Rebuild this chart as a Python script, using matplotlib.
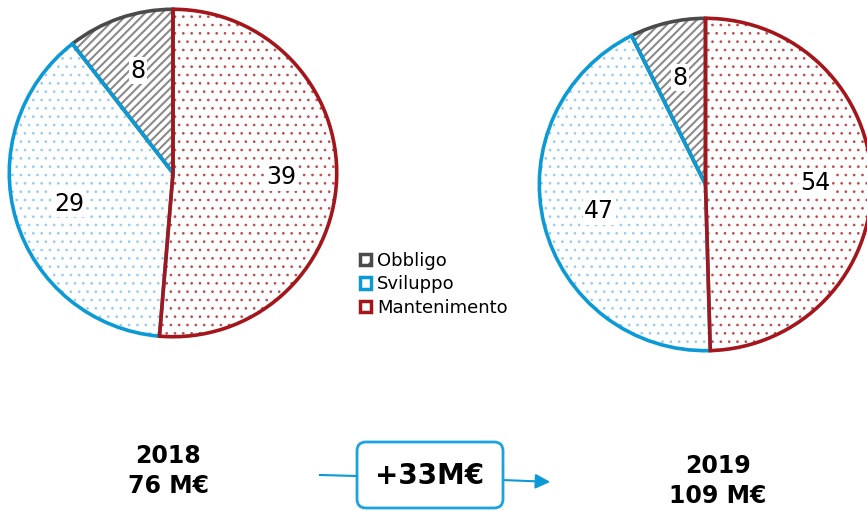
import matplotlib.pyplot as plt
import matplotlib as mpl
from matplotlib.patches import Wedge, Patch, FancyBboxPatch

mpl.rcParams['hatch.linewidth'] = 1.5

# dati
categorie = ['Mantenimento', 'Sviluppo', 'Obbligo']
valori_2018 = [39, 29, 8]
valori_2019 = [54, 47, 8]
anni = ['2018', '2019']
totali = ['76 M€', '109 M€']
delta = '+33M€'

bordi = {'Mantenimento': '#A3161C', 'Sviluppo': '#0C9AD6', 'Obbligo': '#4A4A4A'}
trame = {'Mantenimento': '#C0494E', 'Sviluppo': '#98CBF0', 'Obbligo': '#8A8A8A'}
hatch = {'Mantenimento': '..', 'Sviluppo': '..', 'Obbligo': '////'}
spessore_trama = {'Mantenimento': 0.7, 'Sviluppo': 0.7, 'Obbligo': 1.5}

W, H = 867, 511
fig = plt.figure(figsize=(W / 100, H / 100), dpi=100)


def disegna_torta(box, valori):
    ax = fig.add_axes([box[0] / W, 1 - (box[1] + box[3]) / H, box[2] / W, box[3] / H])
    tot = sum(valori)
    wedges, _, testi = ax.pie(valori, startangle=90, counterclock=False, radius=1,
                              autopct=lambda p: f'{p * tot / 100:.0f}', pctdistance=0.66,
                              textprops={'fontsize': 17})
    for w, c in zip(wedges, categorie):
        w.set_facecolor('white')
        w.set_edgecolor(trame[c])
        w.set_hatch(hatch[c])
        w.set_linewidth(0)
        if hasattr(w, 'set_hatch_linewidth'):
            w.set_hatch_linewidth(spessore_trama[c])
    # contorni: Obbligo, Sviluppo, poi Mantenimento sopra
    for i in [2, 1, 0]:
        w = wedges[i]
        c = categorie[i]
        ax.add_patch(Wedge(w.center, w.r, w.theta1, w.theta2, fill=False,
                           edgecolor=bordi[c], linewidth=2.6, zorder=3))
    for t in testi:
        t.set_bbox(dict(facecolor='white', edgecolor='none', pad=1))
        t.set_zorder(5)
    ax.set_xlim(-1.02, 1.02)
    ax.set_ylim(-1.02, 1.02)
    ax.set_aspect('equal')
    ax.axis('off')
    return ax


disegna_torta((6, 6, 334, 334), valori_2018)
disegna_torta((536, 15, 339, 339), valori_2019)

# legenda
handles = [Patch(facecolor='white', edgecolor=bordi[c], hatch=hatch[c][:1], linewidth=2.5, label=c)
           for c in ['Obbligo', 'Sviluppo', 'Mantenimento']]
fig.legend(handles=handles, loc='upper left', bbox_to_anchor=(360 / W, 1 - 252 / H),
           frameon=False, fontsize=13, handlelength=0.6, handleheight=0.6,
           handletextpad=0.35, labelspacing=0.3, borderpad=0, borderaxespad=0)

# parte bassa
ov = fig.add_axes([0, 0, 1, 1])
ov.set_xlim(0, W)
ov.set_ylim(H, 0)
ov.axis('off')
ov.text(168, 471, anni[0] + '\n' + totali[0], ha='center', va='center',
        fontsize=17, fontweight='bold', linespacing=1.3)
ov.text(718, 481, anni[1] + '\n' + totali[1], ha='center', va='center',
        fontsize=17, fontweight='bold', linespacing=1.3)
ov.plot([320, 357], [475, 476], color='#0C9AD6', lw=1.5)
ov.annotate('', xy=(553, 482), xytext=(502, 480),
            arrowprops=dict(arrowstyle='-|>', color='#0C9AD6', lw=1.5, mutation_scale=22))
ov.add_patch(FancyBboxPatch((357, 442), 146, 66, boxstyle='round,pad=0,rounding_size=9',
                            facecolor='white', edgecolor='#1AA3DD', lw=2))
ov.text(430, 476, delta, ha='center', va='center', fontsize=20, fontweight='bold')

fig.savefig('out.png', dpi=100)
